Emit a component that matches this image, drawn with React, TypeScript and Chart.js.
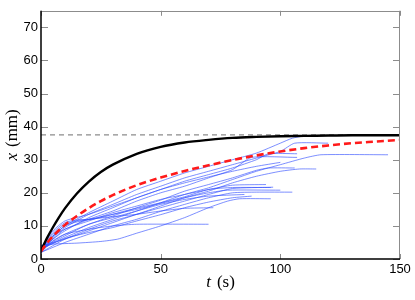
import React, { useEffect, useRef } from "react";
import { Chart, registerables } from "chart.js";

Chart.register(...registerables);

// ---- data ----
const xTicks = [0, 50, 100, 150];
const yTicks = [0, 10, 20, 30, 40, 50, 60, 70];

// black model curve
const modelT = [0, 2.5, 5, 7.5, 10, 15, 20, 25, 30, 40, 50, 60, 70, 80, 90, 100, 110, 120, 130, 140, 150];
const modelX = [2.5, 6.3, 9.6, 12.6, 15.3, 19.8, 23.4, 26.3, 28.5, 31.8, 33.9, 35.2, 36.0, 36.6, 36.9, 37.1, 37.2, 37.3, 37.4, 37.4, 37.4];

// red dashed mean curve
const meanT = [0, 2.5, 5, 7.5, 10, 15, 20, 25, 30, 35, 40, 45, 50, 60, 70, 80, 90, 100, 110, 120, 130, 140, 150];
const meanX = [2.3, 4.8, 6.9, 8.7, 10.3, 13.0, 15.4, 17.5, 19.3, 20.9, 22.3, 23.5, 24.6, 26.6, 28.3, 29.9, 31.3, 32.5, 33.5, 34.3, 35.0, 35.5, 36.0];

// grey dashed plateau
const plateauT = [0, 150];
const plateauX = [37.5, 37.5];

// blue individual runs: [t, x]
const run01: number[][] = [[0, 3], [5, 7], [10, 10], [20, 14], [30, 17.5], [40, 21], [50, 23.5], [60, 26], [70, 28], [80, 30], [90, 32], [100, 35], [105, 36.5], [110, 37.2]];
const run02: number[][] = [[0, 2.5], [5, 6.5], [10, 9.5], [20, 13.5], [30, 16.5], [40, 19.5], [50, 22], [60, 24.5], [70, 26.5], [80, 28.5], [90, 30.5], [100, 32.5], [106, 35], [120, 35]];
const run03: number[][] = [[0, 3], [10, 6.5], [20, 9.5], [30, 12], [40, 14.5], [50, 17], [60, 19.5], [70, 21.5], [80, 24], [90, 26.5], [100, 28.5], [110, 30.5], [117, 31.5], [145, 31.5]];
const run04: number[][] = [[0, 2], [5, 6], [10, 8.5], [20, 12.5], [30, 15.5], [40, 18.5], [50, 21], [60, 23.5], [70, 25.5], [80, 27.5], [90, 30], [95, 31.8], [107, 31.8]];
const run05: number[][] = [[0, 3], [5, 7], [10, 9], [20, 12], [30, 14.5], [40, 17.5], [50, 20], [60, 22], [70, 24.5], [80, 27], [88, 30.7], [107, 30.7]];
const run06: number[][] = [[0, 2], [10, 6], [20, 9], [30, 11.5], [40, 13.5], [50, 16], [60, 18.5], [70, 20.5], [80, 23], [90, 25], [100, 26.5], [108, 27.2], [115, 27.2]];
const run07: number[][] = [[0, 3], [10, 7.5], [20, 10.5], [30, 13], [40, 15.5], [50, 17.8], [60, 20.5], [70, 22.5], [80, 24.5], [90, 26.8], [95, 27.5], [106, 27.5]];
const run08: number[][] = [[0, 2.5], [5, 6], [10, 9], [20, 11.5], [30, 14], [40, 16], [50, 18], [60, 19.5], [70, 21], [80, 22.3], [94, 22.5]];
const run09: number[][] = [[0, 4], [10, 6], [20, 8.5], [30, 11], [40, 13.5], [50, 15.5], [60, 17.5], [70, 19.5], [80, 21.3], [97, 21.7]];
const run10: number[][] = [[0, 3], [5, 7.5], [10, 10.5], [15, 11.5], [20, 12], [30, 13.5], [40, 15], [50, 16.8], [60, 18.5], [70, 20], [78, 20.8], [100, 20.8]];
const run11: number[][] = [[0, 2], [10, 5], [20, 7.5], [30, 10], [40, 12], [50, 14.4], [60, 16.5], [70, 18.5], [80, 20], [90, 20.2], [105, 20.2]];
const run12: number[][] = [[0, 4], [5, 4.5], [15, 4.8], [25, 5.3], [32, 6.0], [40, 7.8], [50, 10], [60, 12.5], [70, 15.5], [78, 17.5], [83, 18.2], [96, 18.2]];
const run13: number[][] = [[0, 3], [5, 8], [10, 11], [15, 11.8], [20, 12], [30, 12.8], [40, 13.5], [50, 14.5], [60, 15.3], [72, 15.5]];
const run14: number[][] = [[0, 2], [5, 5.5], [10, 7.5], [20, 9], [30, 10], [40, 10.5], [70, 10.5]];
const run15: number[][] = [[0, 3.5], [5, 8.5], [10, 11.5], [20, 13.5], [30, 16], [40, 18.5], [50, 21], [60, 23], [70, 24.8], [80, 26.5], [90, 28], [100, 29.2]];
const run16: number[][] = [[0, 3], [10, 7], [20, 10.5], [30, 12.5], [40, 14.5], [50, 16.5], [60, 18], [70, 19], [85, 19.5]];
const run17: number[][] = [[0, 2.5], [5, 6.8], [10, 10], [15, 11.2], [25, 12.5], [35, 14.5], [50, 17], [60, 18.8], [70, 21], [80, 21.6], [96, 21.6]];
const run18: number[][] = [[0, 3], [10, 6.2], [20, 8], [30, 9.5], [40, 11.5], [50, 13.4], [60, 15.5], [70, 17.2], [80, 18.5], [88, 19]];

const runs = [run01, run02, run03, run04, run05, run06, run07, run08, run09, run10, run11, run12, run13, run14, run15, run16, run17, run18];

const zip = (ts: number[], xs: number[]) => ts.map((t, i) => ({ x: t, y: xs[i] }));

const frameAndTicks = {
  id: "frameAndTicks",
  afterDatasetsDraw(chart: any) {
    const { ctx, chartArea, scales } = chart;
    const { left, right, top, bottom } = chartArea;
    const sx = scales.x;
    const sy = scales.y;
    const len = 5;
    ctx.save();
    ctx.strokeStyle = "#8c8c8c";
    ctx.lineWidth = 1;
    ctx.beginPath();
    xTicks.forEach((v) => {
      const p = Math.round(sx.getPixelForValue(v)) + 0.5;
      ctx.moveTo(p, bottom);
      ctx.lineTo(p, bottom - len);
      ctx.moveTo(p, top);
      ctx.lineTo(p, top + len);
    });
    yTicks.forEach((v) => {
      const p = Math.round(sy.getPixelForValue(v)) + 0.5;
      ctx.moveTo(left, p);
      ctx.lineTo(left + len + 2, p);
      ctx.moveTo(right, p);
      ctx.lineTo(right - len - 2, p);
    });
    ctx.stroke();
    // top & right border (grey)
    ctx.beginPath();
    ctx.moveTo(left, Math.round(top) + 0.5);
    ctx.lineTo(right, Math.round(top) + 0.5);
    ctx.moveTo(Math.round(right) - 0.5, top);
    ctx.lineTo(Math.round(right) - 0.5, bottom);
    ctx.stroke();
    // left & bottom border (black)
    ctx.strokeStyle = "#000";
    ctx.lineWidth = 1.5;
    ctx.beginPath();
    ctx.moveTo(left, top);
    ctx.lineTo(left, bottom);
    ctx.lineTo(right, bottom);
    ctx.stroke();

    // axis titles
    ctx.fillStyle = "#000";
    ctx.textBaseline = "middle";
    const it = 'italic 17px "Liberation Serif"';
    const rm = '17px "Liberation Serif"';
    const gap = 6;
    // x-axis title: t (s)
    ctx.font = it;
    const wt = ctx.measureText("t").width;
    ctx.font = rm;
    const ws = ctx.measureText("(s)").width;
    const cx = (left + right) / 2;
    const startX = cx - (wt + gap + ws) / 2;
    ctx.font = it;
    ctx.textAlign = "left";
    ctx.fillText("t", startX, 283);
    ctx.font = rm;
    ctx.fillText("(s)", startX + wt + gap, 283);
    // y-axis title: x (mm)
    ctx.font = it;
    const wx = ctx.measureText("x").width;
    ctx.font = rm;
    const wm = ctx.measureText("(mm)").width;
    const cy = (top + bottom) / 2;
    ctx.translate(13, cy);
    ctx.rotate(-Math.PI / 2);
    const sX = -(wx + gap + wm) / 2;
    ctx.font = it;
    ctx.fillText("x", sX, 0);
    ctx.font = rm;
    ctx.fillText("(mm)", sX + wx + gap, 0);
    ctx.restore();
  },
};

export default function App() {
  const ref = useRef<HTMLCanvasElement>(null);
  useEffect(() => {
    document.body.style.margin = "0";
    const blue = "rgba(45,75,255,0.62)";
    const datasets: any[] = [
      {
        label: "mean",
        data: zip(meanT, meanX),
        borderColor: "#ff1a1a",
        borderWidth: 2.6,
        borderDash: [7, 4],
        pointRadius: 0,
        cubicInterpolationMode: "monotone",
        fill: false,
      },
      {
        label: "model",
        data: zip(modelT, modelX),
        borderColor: "#000",
        borderWidth: 2.4,
        pointRadius: 0,
        cubicInterpolationMode: "monotone",
        fill: false,
      },
      {
        label: "plateau",
        data: zip(plateauT, plateauX),
        borderColor: "#8c8c8c",
        borderWidth: 1.3,
        borderDash: [5, 4],
        pointRadius: 0,
        fill: false,
      },
      ...runs.map((r, i) => ({
        label: "run" + (i + 1),
        data: r.map(([t, x]) => ({ x: t, y: x })),
        borderColor: blue,
        borderWidth: 1,
        pointRadius: 0,
        tension: 0.2,
        fill: false,
      })),
    ];
    const tickFont = { family: '"Liberation Sans", Arial, sans-serif', size: 13 };
    const chart = new Chart(ref.current!, {
      type: "line",
      data: { datasets },
      plugins: [frameAndTicks],
      options: {
        responsive: false,
        animation: false,
        layout: { padding: { left: 0, right: 15, top: 3, bottom: 0 } },
        plugins: { legend: { display: false }, tooltip: { enabled: false } },
        scales: {
          x: {
            type: "linear",
            min: 0,
            max: 150,
            afterBuildTicks: (s: any) => {
              s.ticks = xTicks.map((v) => ({ value: v }));
            },
            afterFit: (s: any) => {
              s.height = 41;
            },
            ticks: { color: "#000", font: tickFont, padding: 3, maxRotation: 0, autoSkip: false },
            grid: { display: false, drawTicks: false },
            border: { display: false },
          },
          y: {
            type: "linear",
            min: 0,
            max: 75,
            afterBuildTicks: (s: any) => {
              s.ticks = yTicks.map((v) => ({ value: v }));
            },
            afterFit: (s: any) => {
              s.width = 41;
            },
            ticks: { color: "#000", font: tickFont, padding: 3, autoSkip: false },
            grid: { display: false, drawTicks: false },
            border: { display: false },
          },
        },
      },
    });
    return () => chart.destroy();
  }, []);
  return (
    <div style={{ width: 415, height: 300, position: "relative" }}>
      <canvas ref={ref} width={415} height={300} />
    </div>
  );
}
